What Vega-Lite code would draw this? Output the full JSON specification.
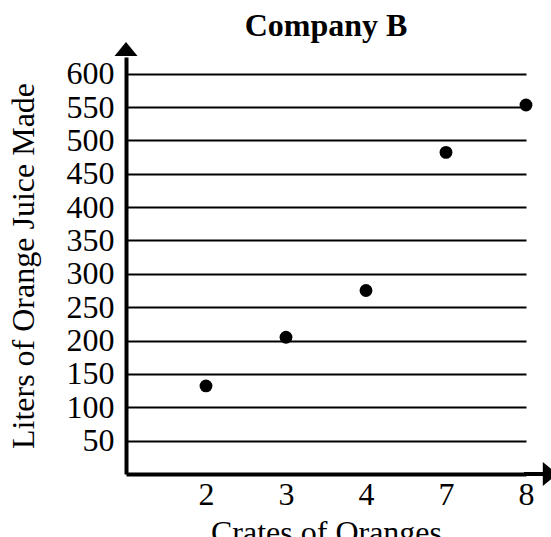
{
  "$schema": "https://vega.github.io/schema/vega-lite/v6.json",
  "width": 400,
  "height": 417,
  "autosize": {"type": "none"},
  "padding": {"left": 126, "top": 57, "right": 25, "bottom": 63},
  "background": "white",
  "title": {
    "text": "Company B",
    "font": "Liberation Serif",
    "fontSize": 32,
    "fontWeight": "bold",
    "color": "black",
    "anchor": "middle",
    "offset": -1
  },
  "config": {
    "view": {"stroke": null},
    "axis": {
      "labelFont": "Liberation Serif",
      "labelFontSize": 32,
      "labelColor": "black",
      "labelOverlap": false,
      "titleFont": "Liberation Serif",
      "titleFontSize": 32,
      "titleFontWeight": "normal",
      "titleColor": "black",
      "domainColor": "black",
      "domainWidth": 4,
      "ticks": false
    }
  },
  "layer": [
    {
      "data": {
        "values": [
          {"crates": 2, "liters": 132},
          {"crates": 3, "liters": 205},
          {"crates": 4, "liters": 275},
          {"crates": 7, "liters": 482},
          {"crates": 8, "liters": 553}
        ]
      },
      "mark": {"type": "point", "filled": true, "color": "black", "opacity": 1, "size": 165},
      "encoding": {
        "x": {
          "field": "crates",
          "type": "ordinal",
          "scale": {"type": "point", "padding": 0.5, "align": 1},
          "axis": {
            "title": "Crates of Oranges",
            "labelAngle": 0,
            "labelPadding": 5,
            "titlePadding": 7,
            "grid": false
          }
        },
        "y": {
          "field": "liters",
          "type": "quantitative",
          "scale": {"domain": [0, 625], "nice": false},
          "axis": {
            "title": "Liters of Orange Juice Made",
            "values": [50, 100, 150, 200, 250, 300, 350, 400, 450, 500, 550, 600],
            "tickCount": 20,
            "labelOverlap": false,
            "grid": true,
            "gridColor": "black",
            "gridWidth": 2,
            "gridOpacity": 1,
            "labelPadding": 12,
            "titlePadding": 26
          }
        }
      }
    },
    {
      "data": {"values": [{"axis": "x"}]},
      "mark": {"type": "rule", "color": "black", "strokeWidth": 4},
      "encoding": {
        "y": {"datum": 0},
        "x": {"value": 398},
        "x2": {"value": 420}
      }
    },
    {
      "data": {"values": [{"axis": "x"}]},
      "mark": {"type": "point", "shape": "M-0.6,-1L0.6,0L-0.6,1Z", "filled": true, "color": "black", "opacity": 1, "size": 576},
      "encoding": {
        "y": {"datum": 0},
        "x": {"value": 424}
      }
    },
    {
      "data": {"values": [{"axis": "y"}]},
      "mark": {"type": "point", "shape": "M-1,0.6L0,-0.6L1,0.6Z", "filled": true, "color": "black", "opacity": 1, "size": 529},
      "encoding": {
        "y": {"datum": 637},
        "x": {"value": 0}
      }
    }
  ]
}
